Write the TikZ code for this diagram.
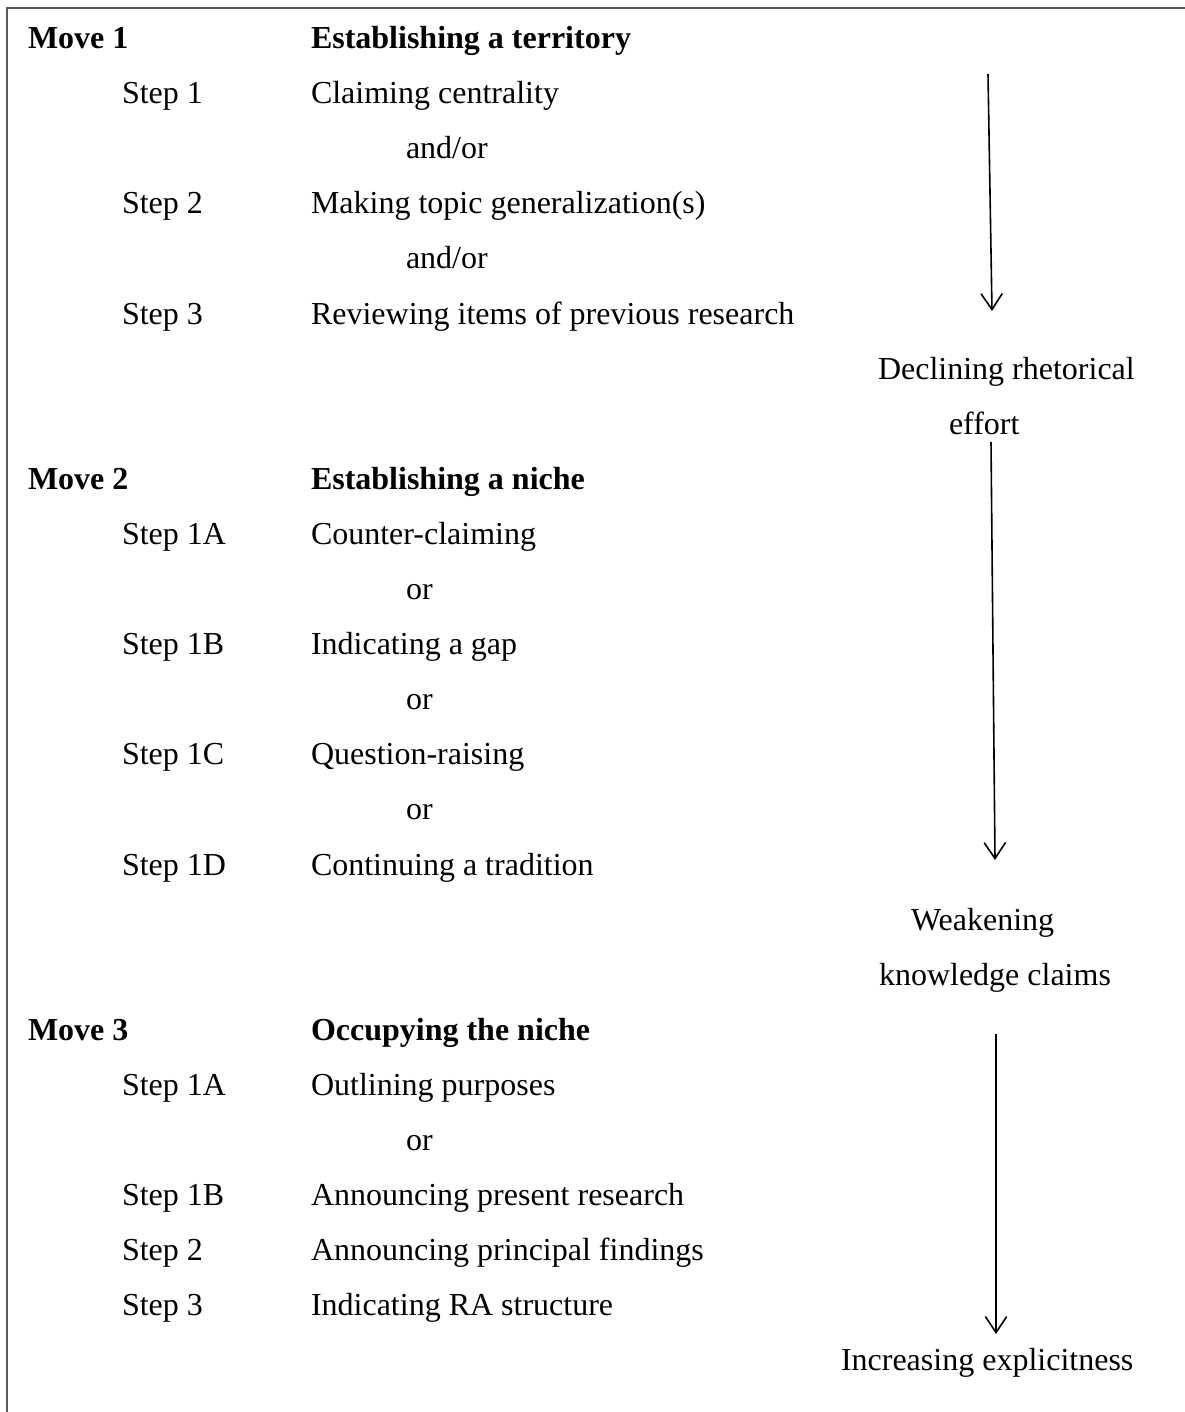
\documentclass[tikz,border=0pt]{standalone}
\usepackage{fontspec}
\setmainfont{Liberation Serif}
\usepackage{xcolor}
\usetikzlibrary{arrows.meta, positioning}
\definecolor{framegray}{HTML}{595959}

\begin{document}
\begin{tikzpicture}[
    x=0.375pt, y=-0.375pt,
    every node/.style={inner sep=0pt, outer sep=0pt, anchor=base west, font=\fontsize{12}{14}\selectfont},
    move/.style={font=\fontsize{12}{14}\selectfont\bfseries},
    steplbl/.style={},
    desc/.style={},
    alt/.style={},
    note/.style={},
    flow/.style={-{Straight Barb[length=6pt, width=8pt, line width=0.6pt]}, line width=0.6pt},
    frame/.style={draw=framegray, line width=0.75pt},
]
\useasboundingbox (0,0) rectangle (1185,1412);

% Frame
\draw[frame] (1185,8) -- (7,8) -- (7,1412);

% Move 1
\node[move] (m1) at (28,48.5) {Move 1};
\node[move] (m1t) at (311,48.5) {Establishing a territory};
\node[steplbl] (m1s1) at (122,103.6) {Step 1};
\node[desc] (m1d1) at (311,103.6) {Claiming centrality};
\node[alt] (m1o1) at (406,158.7) {and/or};
\node[steplbl] (m1s2) at (122,213.8) {Step 2};
\node[desc] (m1d2) at (311,213.8) {Making topic generalization(s)};
\node[alt] (m1o2) at (406,268.9) {and/or};
\node[steplbl] (m1s3) at (122,324.0) {Step 3};
\node[desc] (m1d3) at (311,324.0) {Reviewing items of previous research};

% Move 2
\node[move] (m2) at (28,489.3) {Move 2};
\node[move] (m2t) at (311,489.3) {Establishing a niche};
\node[steplbl] (m2s1) at (122,544.4) {Step 1A};
\node[desc] (m2d1) at (311,544.4) {Counter-claiming};
\node[alt] (m2o1) at (406,599.5) {or};
\node[steplbl] (m2s2) at (122,654.6) {Step 1B};
\node[desc] (m2d2) at (311,654.6) {Indicating a gap};
\node[alt] (m2o2) at (406,709.7) {or};
\node[steplbl] (m2s3) at (122,764.8) {Step 1C};
\node[desc] (m2d3) at (311,764.8) {Question-raising};
\node[alt] (m2o3) at (406,819.9) {or};
\node[steplbl] (m2s4) at (122,875.0) {Step 1D};
\node[desc] (m2d4) at (311,875.0) {Continuing a tradition};

% Move 3
\node[move] (m3) at (28,1040.3) {Move 3};
\node[move] (m3t) at (311,1040.3) {Occupying the niche};
\node[steplbl] (m3s1) at (122,1095.4) {Step 1A};
\node[desc] (m3d1) at (311,1095.4) {Outlining purposes};
\node[alt] (m3o1) at (406,1150.5) {or};
\node[steplbl] (m3s2) at (122,1205.6) {Step 1B};
\node[desc] (m3d2) at (311,1205.6) {Announcing present research};
\node[steplbl] (m3s3) at (122,1260.7) {Step 2};
\node[desc] (m3d3) at (311,1260.7) {Announcing principal findings};
\node[steplbl] (m3s4) at (122,1315.8) {Step 3};
\node[desc] (m3d4) at (311,1315.8) {Indicating RA structure};

% Right-hand notes
\node[note] (n1a) at (878,379.1) {Declining rhetorical};
\node[note] (n1b) at (949,434.2) {effort};
\node[note] (n2a) at (911,930.1) {Weakening};
\node[note] (n2b) at (879,985.2) {knowledge claims};
\node[note] (n3) at (841,1370.9) {Increasing explicitness};

% Arrows
\coordinate (a1s) at (988,74);
\coordinate (a1e) at (992,311);
\coordinate (a2s) at (991,442);
\coordinate (a2e) at (995,860);
\coordinate (a3s) at (996,1034);
\coordinate (a3e) at (996,1334);
\draw[flow] (a1s) -- (a1e);
\draw[flow] (a2s) -- (a2e);
\draw[flow] (a3s) -- (a3e);

\end{tikzpicture}
\end{document}
